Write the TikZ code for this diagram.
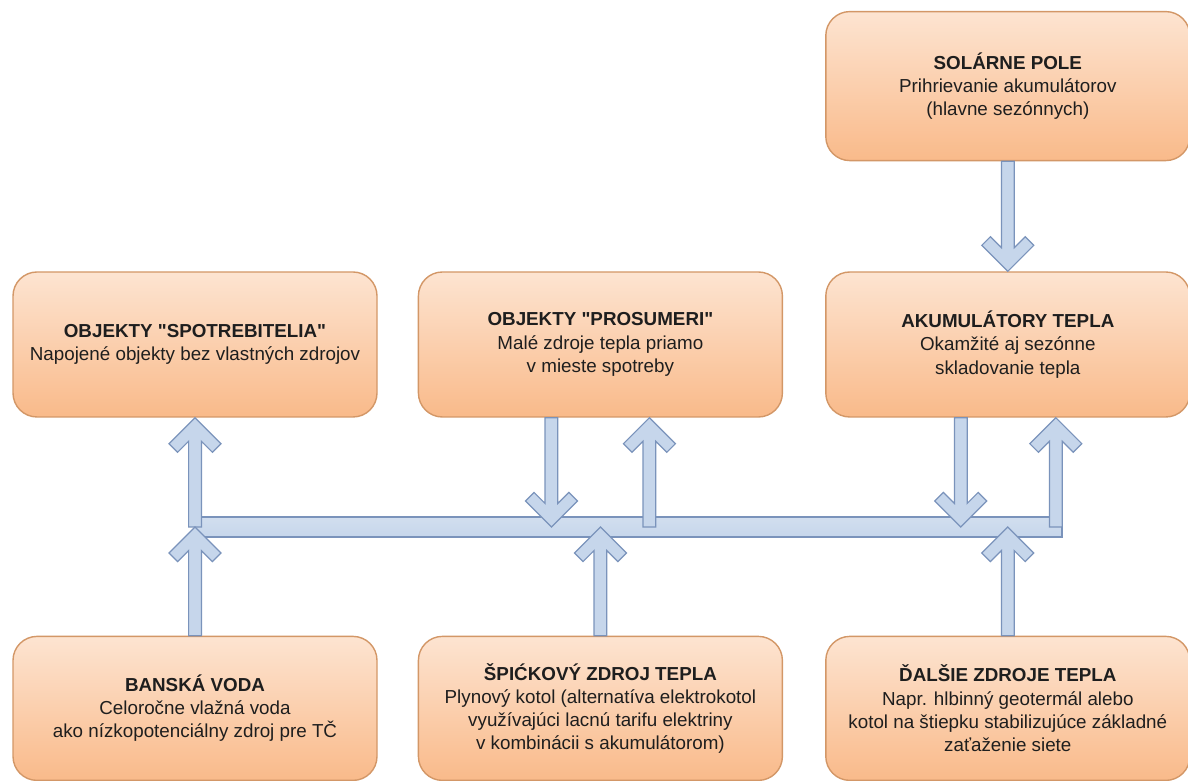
\documentclass[tikz,border=0pt]{standalone}
\usepackage{fontspec}
\setmainfont{Liberation Sans}[Ligatures=TeXOff]
\usepackage{xcolor}
\usepackage{tikz}
\usetikzlibrary{
    positioning,
    calc
}
\definecolor{boxtop}{HTML}{FDE4D1}
\definecolor{boxbottom}{HTML}{F9BA8A}
\definecolor{boxborder}{HTML}{D39767}
\definecolor{pipefill}{HTML}{C6D6EB}
\definecolor{pipeborder}{HTML}{7A93BB}
\definecolor{textdark}{HTML}{1E1E1E}
\tikzset{
    block/.style={
        rectangle, draw=boxborder, top color=boxtop, bottom color=boxbottom,
        rounded corners=12pt, minimum width=182pt, minimum height=72.5pt,
        align=center, line width=0.7pt, text=textdark, inner sep=2pt,
        font=\fontsize{9.4}{11.6}\selectfont
    },
    busbar/.style={
        rectangle, draw=pipeborder, top color=pipefill!80!white, bottom color=pipefill,
        minimum width=433.5pt, minimum height=10pt,
        inner sep=0pt, line width=0.6pt
    },
    % block arrow with open chevron head, start and target share x
    flow/.style={
        fill=pipefill, draw=pipeborder, line width=0.6pt, line join=miter,
        to path={
            let \p1=(\tikztostart), \p2=(\tikztotarget),
                \n1={sign(\y2-\y1)} in
            ({\x1-3.2pt},\y1) -- ({\x1-3.2pt},{\y2-\n1*11.8pt})
            -- ({\x1-8.7pt},{\y2-\n1*17.3pt}) -- ({\x1-13pt},{\y2-\n1*13pt})
            -- (\x1,\y2)
            -- ({\x1+13pt},{\y2-\n1*13pt}) -- ({\x1+8.7pt},{\y2-\n1*17.3pt})
            -- ({\x1+3.2pt},{\y2-\n1*11.8pt}) -- ({\x1+3.2pt},\y1) -- cycle
        }
    },
}

\begin{document}
\begin{tikzpicture}[node distance=20pt]

    \useasboundingbox (0,0) rectangle (594pt,390.5pt);

    % Consumers and storage
    \node[block] (spot) at (97.5pt,218.25pt) {%
        \textbf{OBJEKTY "SPOTREBITELIA"}\\
        Napojené objekty bez vlastných zdrojov};
    \node[block, right=20pt of spot] (pros) {%
        \textbf{OBJEKTY "PROSUMERI"}\\
        Malé zdroje tepla priamo\\
        v mieste spotreby};
    \node[block, right=21pt of pros] (akum) {%
        \textbf{AKUMULÁTORY TEPLA}\\
        Okamžité aj sezónne\\
        skladovanie tepla};
    \node[block, minimum height=74.5pt, above=55pt of akum] (solar) {%
        \textbf{SOLÁRNE POLE}\\
        Prihrievanie akumulátorov\\
        (hlavne sezónnych)};

    % Sources
    \node[block, minimum height=72pt, below=109pt of spot] (banska) {%
        \textbf{BANSKÁ VODA}\\
        Celoročne vlažná voda\\
        ako nízkopotenciálny zdroj pre TČ};
    \node[block, minimum height=72pt, below=109pt of pros] (spic) {%
        \textbf{ŠPIĆKOVÝ ZDROJ TEPLA}\\
        Plynový kotol (alternatíva elektrokotol\\
        využívajúci lacnú tarifu elektriny\\
        v kombinácii s akumulátorom)};
    \node[block, minimum height=72pt, below=109pt of akum] (dalsie) {%
        \textbf{ĎALŠIE ZDROJE TEPLA}\\
        Napr. hlbinný geotermál alebo\\
        kotol na štiepku stabilizujúce základné\\
        zaťaženie siete};

    % Heat network
    \node[busbar] (bus) at (314.25pt,127pt) {};

    \draw[flow] (solar.south) to (akum.north);

    \draw[flow] (spot.south |- bus.center) to (spot.south);
    \draw[flow] ([xshift=-24.5pt]pros.south) to ([xshift=-24.5pt]pros.south |- bus.center);
    \draw[flow] ([xshift=24.5pt]pros.south |- bus.center) to ([xshift=24.5pt]pros.south);
    \draw[flow] ([xshift=-23.5pt]akum.south) to ([xshift=-23.5pt]akum.south |- bus.center);
    \draw[flow] ([xshift=24pt]akum.south |- bus.center) to ([xshift=24pt]akum.south);

    \draw[flow] (banska.north) to (banska.north |- bus.center);
    \draw[flow] (spic.north) to (spic.north |- bus.center);
    \draw[flow] (dalsie.north) to (dalsie.north |- bus.center);

\end{tikzpicture}
\end{document}
